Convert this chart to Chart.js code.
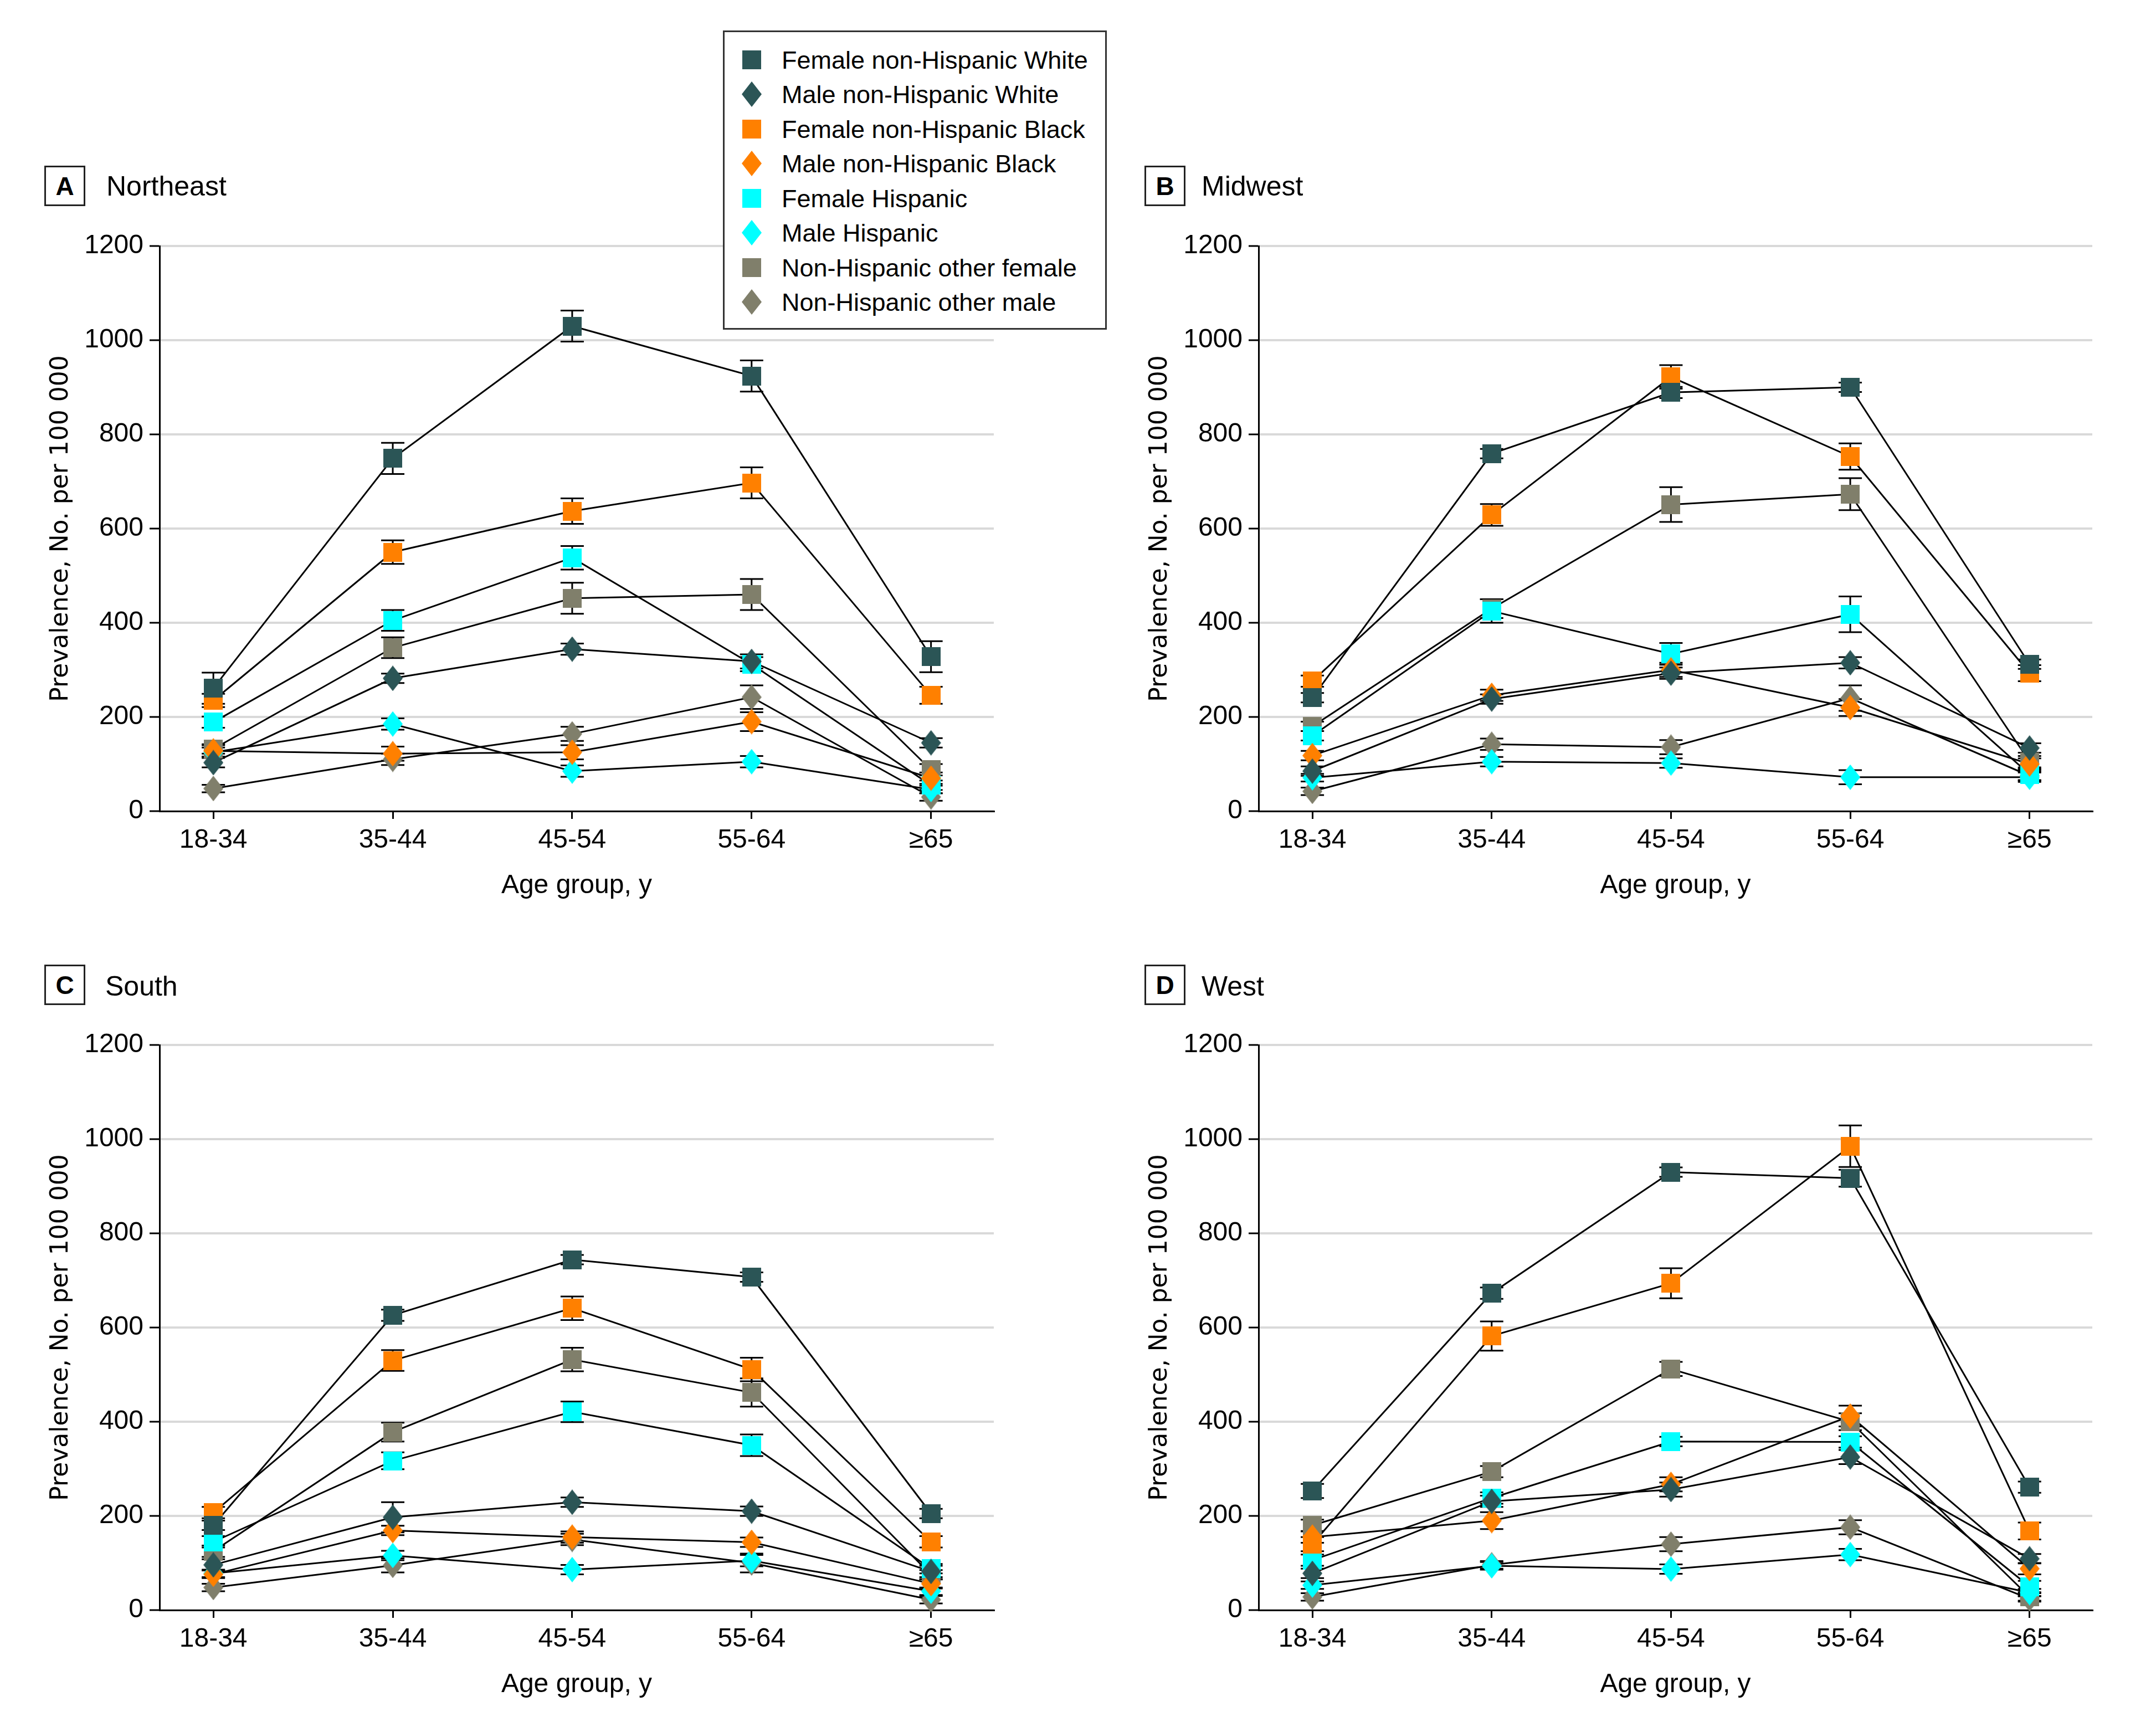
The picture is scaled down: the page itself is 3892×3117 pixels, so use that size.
<!DOCTYPE html>
<html>
<head>
<meta charset="utf-8">
<script src="https://cdn.jsdelivr.net/npm/chart.js@4.4.1/dist/chart.umd.min.js"></script>
<style>
  body { margin: 0; background: #fff; width: 3892px; height: 3117px; position: relative; overflow: hidden;
         font-family: "Liberation Sans", Arial, sans-serif; color: #000; }
  canvas.panel { position: absolute; }
  .tag { position: absolute; width: 68px; height: 67px; border: 3px solid #222; font-weight: bold; font-size: 46px;
         display: flex; align-items: center; justify-content: center; background: #fff; }
  .ptitle { position: absolute; font-size: 50px; line-height: 1; transform: translateY(-50%); }
  #legend { position: absolute; left: 1305px; top: 55px; width: 687px; height: 534px; border: 3px solid #333; background: #fff; z-index: 5; }
  .lg-row { position: absolute; left: 0; height: 0; }
  .lg-text { position: absolute; left: 103px; top: 0; transform: translateY(-50%); font-size: 45px; white-space: nowrap; line-height: 1; }
  .lg-mark { position: absolute; }
</style>
</head>
<body>
<div class="tag" style="left:80px;top:299px">A</div><div class="ptitle" style="left:192px;top:336px">Northeast</div>
<div class="tag" style="left:2066px;top:299px">B</div><div class="ptitle" style="left:2169px;top:336px">Midwest</div>
<div class="tag" style="left:80px;top:1741px">C</div><div class="ptitle" style="left:190px;top:1780px">South</div>
<div class="tag" style="left:2066px;top:1741px">D</div><div class="ptitle" style="left:2169px;top:1780px">West</div>

<canvas id="chartA" class="panel" width="1760" height="1270" style="left:60px;top:401px"></canvas>
<canvas id="chartB" class="panel" width="1760" height="1270" style="left:2060px;top:401px"></canvas>
<canvas id="chartC" class="panel" width="1760" height="1270" style="left:60px;top:1843px"></canvas>
<canvas id="chartD" class="panel" width="1760" height="1270" style="left:2060px;top:1843px"></canvas>
<div id="legend"></div>

<script>
const ageGroups = ['18-34', '35-44', '45-54', '55-64', '≥65'];

const seriesNames = [
    'Female non-Hispanic White',
    'Male non-Hispanic White',
    'Female non-Hispanic Black',
    'Male non-Hispanic Black',
    'Female Hispanic',
    'Male Hispanic',
    'Non-Hispanic other female',
    'Non-Hispanic other male'
];
const seriesColors = ['#2b5556', '#2b5556', '#ff8000', '#ff8000', '#00ffff', '#00ffff', '#807f6b', '#807f6b'];
const seriesShapes = ['square', 'diamond', 'square', 'diamond', 'square', 'diamond', 'square', 'diamond'];

// prevalence per 100 000, one row per series (same order as seriesNames)
const northeastValues = [
    [261, 749, 1030, 924, 328],
    [103, 282, 344, 318, 145],
    [235, 550, 637, 697, 246],
    [128, 122, 125, 190, 70],
    [189, 405, 538, 312, 55],
    [125, 185, 85, 105, 46],
    [132, 347, 452, 460, 88],
    [48, 110, 164, 242, 30]
];
const northeastErrors = [
    [33, 33, 33, 33, 33],
    [10, 10, 12, 15, 10],
    [14, 25, 27, 33, 18],
    [12, 15, 15, 20, 12],
    [12, 22, 25, 15, 10],
    [10, 12, 12, 12, 8],
    [10, 22, 33, 33, 12],
    [8, 12, 15, 25, 8]
];

const midwestValues = [
    [241, 759, 889, 900, 312],
    [85, 238, 293, 315, 134],
    [276, 629, 922, 753, 293],
    [118, 246, 300, 220, 100],
    [160, 425, 334, 418, 78],
    [71, 105, 102, 72, 72],
    [180, 430, 651, 673, 105],
    [42, 142, 136, 240, 75]
];
const midwestErrors = [
    [10, 10, 12, 10, 10],
    [10, 10, 12, 12, 10],
    [12, 23, 25, 28, 17],
    [10, 12, 15, 18, 12],
    [10, 25, 23, 38, 12],
    [8, 10, 10, 15, 10],
    [10, 20, 37, 34, 12],
    [8, 12, 15, 27, 10]
];

const southValues = [
    [180, 626, 744, 707, 205],
    [96, 197, 229, 210, 82],
    [207, 530, 641, 511, 145],
    [76, 169, 155, 144, 56],
    [145, 317, 421, 350, 88],
    [78, 116, 86, 105, 40],
    [125, 378, 532, 462, 75],
    [48, 95, 150, 100, 22]
];
const southErrors = [
    [10, 12, 10, 10, 10],
    [12, 32, 10, 10, 12],
    [12, 22, 25, 25, 12],
    [8, 10, 12, 10, 10],
    [12, 18, 22, 23, 10],
    [8, 10, 10, 12, 8],
    [12, 20, 25, 30, 10],
    [8, 15, 12, 20, 8]
];

const westValues = [
    [253, 673, 930, 917, 261],
    [78, 231, 256, 325, 109],
    [140, 582, 694, 985, 168],
    [155, 190, 267, 412, 88],
    [106, 238, 358, 357, 50],
    [53, 94, 87, 118, 37],
    [180, 294, 512, 400, 28],
    [28, 96, 140, 176, 24]
];
const westErrors = [
    [15, 12, 10, 18, 12],
    [10, 12, 15, 15, 10],
    [15, 31, 32, 44, 18],
    [12, 18, 15, 22, 12],
    [12, 12, 10, 12, 12],
    [8, 8, 10, 12, 8],
    [12, 12, 15, 18, 8],
    [8, 8, 15, 15, 6]
];

Chart.defaults.font.family = '"Liberation Sans", Arial, sans-serif';
Chart.defaults.color = '#000';

// marker images: squares and tall diamonds
function makeMarker(shape, color) {
    const c = document.createElement('canvas');
    if (shape === 'square') {
        c.width = 34; c.height = 34;
        const g = c.getContext('2d');
        g.fillStyle = color;
        g.fillRect(0, 0, 34, 34);
    } else {
        c.width = 36; c.height = 46;
        const g = c.getContext('2d');
        g.fillStyle = color;
        g.beginPath();
        g.moveTo(18, 0); g.lineTo(36, 23); g.lineTo(18, 46); g.lineTo(0, 23);
        g.closePath();
        g.fill();
    }
    return c;
}
const markers = seriesNames.map((n, i) => makeMarker(seriesShapes[i], seriesColors[i]));

function buildPanel(canvasId, values, errors, yAxisWidth, titlePad, padRight) {
    const datasets = [];
    values.forEach(vals => {
        datasets.push({
            data: vals.map((v, j) => ({ x: j, y: v })),
            borderColor: '#000',
            borderWidth: 3,
            pointRadius: 0,
            fill: false,
            tension: 0,
            order: 1
        });
    });
    values.forEach((vals, i) => {
        datasets.push({
            label: seriesNames[i],
            data: vals.map((v, j) => ({ x: j, y: v })),
            showLine: false,
            pointStyle: markers[i],
            pointRadius: 18,
            clip: false,
            order: 0
        });
    });

    const errorBars = {
        id: 'errorBars',
        beforeDatasetsDraw(chart) {
            const { ctx, scales: { x, y } } = chart;
            ctx.save();
            ctx.strokeStyle = '#000';
            ctx.lineWidth = 3;
            values.forEach((vals, i) => {
                vals.forEach((v, j) => {
                    const e = errors[i][j];
                    const px = x.getPixelForValue(j);
                    const top = y.getPixelForValue(v + e);
                    const bot = y.getPixelForValue(v - e);
                    ctx.beginPath();
                    ctx.moveTo(px, top); ctx.lineTo(px, bot);
                    ctx.moveTo(px - 21, top); ctx.lineTo(px + 21, top);
                    ctx.moveTo(px - 21, bot); ctx.lineTo(px + 21, bot);
                    ctx.stroke();
                });
            });
            ctx.restore();
        }
    };

    return new Chart(document.getElementById(canvasId), {
        type: 'line',
        data: { datasets },
        plugins: [errorBars],
        options: {
            responsive: false,
            animation: false,
            devicePixelRatio: 1,
            layout: { padding: { top: 43, right: padRight, left: 0, bottom: 0 } },
            plugins: { legend: { display: false }, tooltip: { enabled: false } },
            scales: {
                x: {
                    type: 'linear',
                    min: -0.3,
                    max: 4.35,
                    afterBuildTicks: s => { s.ticks = ageGroups.map((a, i) => ({ value: i })); },
                    afterFit: s => { s.height = 207; },
                    ticks: {
                        callback: v => ageGroups[v],
                        font: { size: 48 },
                        color: '#000',
                        padding: 10,
                        autoSkip: false,
                        maxRotation: 0
                    },
                    grid: { drawOnChartArea: false, color: '#000', tickLength: 14, lineWidth: 3 },
                    border: { color: '#000', width: 3 },
                    title: {
                        display: true,
                        text: 'Age group, y',
                        font: { size: 48 },
                        color: '#000',
                        padding: { top: 0, bottom: 43 }
                    }
                },
                y: {
                    min: 0,
                    max: 1200,
                    afterFit: s => { s.width = yAxisWidth; },
                    ticks: { stepSize: 200, font: { size: 48 }, color: '#000', padding: 11, callback: v => String(v) },
                    grid: { color: '#d9d9d9', lineWidth: 4, tickColor: '#000', tickLength: 18, tickWidth: 3 },
                    border: { color: '#000', width: 3 },
                    title: {
                        display: true,
                        text: 'Prevalence, No. per 100 000',
                        font: { family: '"DejaVu Sans", sans-serif', size: 44 },
                        color: '#000',
                        padding: { top: titlePad, bottom: 0 }
                    }
                }
            }
        }
    });
}

buildPanel('chartA', northeastValues, northeastErrors, 228, 24, 26);
buildPanel('chartB', midwestValues, midwestErrors, 212, 8, 43);
buildPanel('chartC', southValues, southErrors, 228, 24, 26);
buildPanel('chartD', westValues, westErrors, 212, 8, 43);

// legend
const legend = document.getElementById('legend');
seriesNames.forEach((name, i) => {
    const row = document.createElement('div');
    row.className = 'lg-row';
    row.style.top = (52.5 + i * 62.5 - 3) + 'px';
    const mark = document.createElement('div');
    mark.className = 'lg-mark';
    const w = seriesShapes[i] === 'square' ? 34 : 36;
    const h = seriesShapes[i] === 'square' ? 34 : 46;
    mark.style.width = w + 'px';
    mark.style.height = h + 'px';
    mark.style.left = (49 - w / 2) + 'px';
    mark.style.top = (-h / 2) + 'px';
    mark.style.background = seriesColors[i];
    if (seriesShapes[i] === 'diamond') mark.style.clipPath = 'polygon(50% 0, 100% 50%, 50% 100%, 0 50%)';
    const txt = document.createElement('div');
    txt.className = 'lg-text';
    txt.textContent = name;
    row.appendChild(mark);
    row.appendChild(txt);
    legend.appendChild(row);
});
</script>
</body>
</html>
